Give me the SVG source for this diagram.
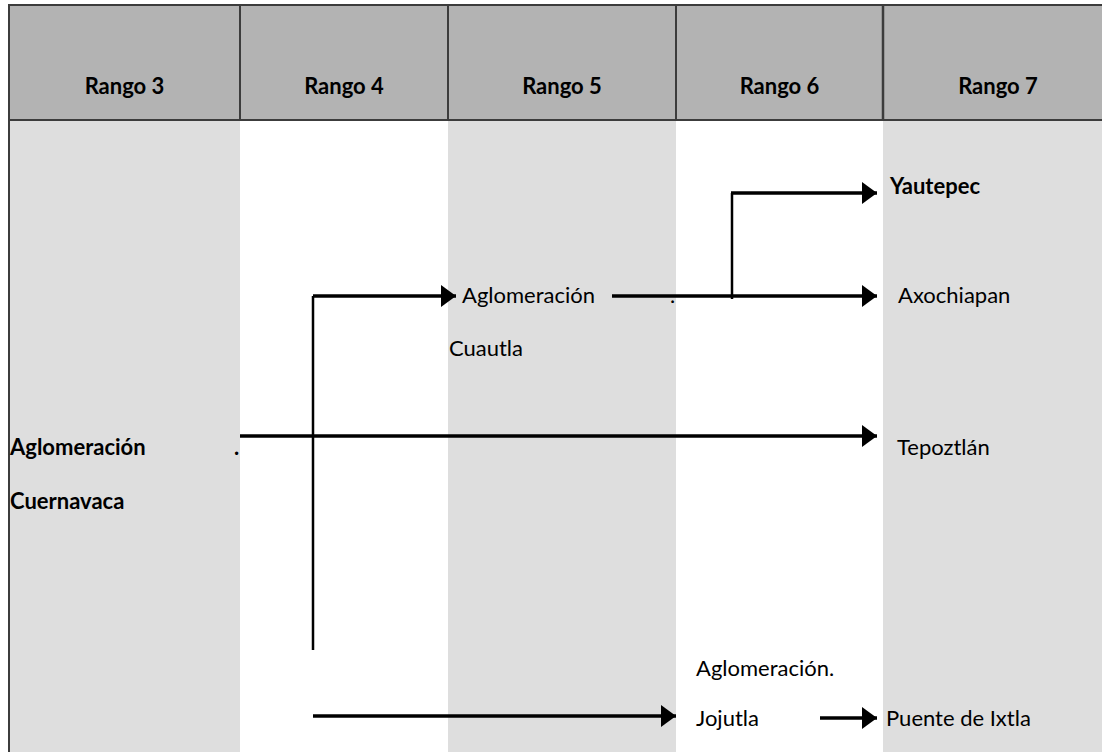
<svg xmlns="http://www.w3.org/2000/svg" width="1102" height="752" viewBox="0 0 1102 752">
  <style>
    .hdr { fill: #b3b3b3; stroke: #3c3c3c; stroke-width: 2; }
    .band { fill: #dedede; }
    .t { font-family: Lato, "Open Sans", sans-serif; font-size: 22px; fill: #000; }
    .b { font-weight: bold; }
    .mid { text-anchor: middle; }
    .h { fill: none; stroke: #000; stroke-width: 3.5; }
    .v { fill: none; stroke: #000; stroke-width: 2.5; }
  </style>
  <defs>
    <marker id="arrow" viewBox="0 0 15 22" refX="15" refY="11" markerWidth="15" markerHeight="22" markerUnits="userSpaceOnUse" orient="auto">
      <path d="M0,0 L15,11 L0,22 Z" fill="#000"/>
    </marker>
  </defs>

  <rect width="1102" height="752" fill="#fff"/>

  <!-- shaded column bands -->
  <g id="bands">
    <rect class="band" x="10" y="121" width="230" height="631"/>
    <rect class="band" x="448" y="121" width="228" height="631"/>
    <rect class="band" x="883" y="121" width="219" height="631"/>
    <line x1="9" y1="120" x2="9" y2="752" stroke="#3c3c3c" stroke-width="2"/>
  </g>

  <!-- header row -->
  <g id="header">
    <rect class="hdr" x="9" y="5" width="1100" height="115"/>
    <line x1="240" y1="5" x2="240" y2="120" stroke="#3c3c3c" stroke-width="2"/>
    <line x1="448" y1="5" x2="448" y2="120" stroke="#3c3c3c" stroke-width="2"/>
    <line x1="676" y1="5" x2="676" y2="120" stroke="#3c3c3c" stroke-width="2"/>
    <line x1="883" y1="5" x2="883" y2="120" stroke="#3c3c3c" stroke-width="2.5"/>
    <text class="t b mid" x="124.5" y="94">Rango 3</text>
    <text class="t b mid" x="344" y="94">Rango 4</text>
    <text class="t b mid" x="562" y="94">Rango 5</text>
    <text class="t b mid" x="779.5" y="94">Rango 6</text>
    <text class="t b mid" x="998" y="94">Rango 7</text>
  </g>

  <!-- connectors -->
  <g id="connectors">
    <path class="v" d="M313,296 V650"/>
    <path class="h" d="M313,296 H456" marker-end="url(#arrow)"/>
    <path class="h" d="M612,296 H877" marker-end="url(#arrow)"/>
    <path class="v" d="M732,299 V193"/>
    <path class="h" d="M731,193 H877" marker-end="url(#arrow)"/>
    <path class="h" d="M240,436 H877" marker-end="url(#arrow)"/>
    <path class="h" d="M313,716 H676" marker-end="url(#arrow)"/>
    <path class="h" d="M820,718 H877" marker-end="url(#arrow)"/>
  </g>

  <!-- nodes -->
  <g id="cuernavaca">
    <text class="t b" x="10" y="455">Aglomeración</text>
    <text class="t b" x="234" y="455">.</text>
    <text class="t b" x="10" y="509">Cuernavaca</text>
  </g>
  <g id="cuautla">
    <text class="t" x="462" y="303">Aglomeración</text>
    <text class="t" x="670" y="303">.</text>
    <text class="t" x="449" y="356">Cuautla</text>
  </g>
  <g id="yautepec">
    <text class="t b" x="890" y="194">Yautepec</text>
  </g>
  <g id="axochiapan">
    <text class="t" x="898" y="303">Axochiapan</text>
  </g>
  <g id="tepoztlan">
    <text class="t" x="897" y="455">Tepoztlán</text>
  </g>
  <g id="jojutla">
    <text class="t" x="696" y="676">Aglomeración.</text>
    <text class="t" x="696" y="726">Jojutla</text>
  </g>
  <g id="puente">
    <text class="t" x="886" y="726">Puente de Ixtla</text>
  </g>
</svg>
